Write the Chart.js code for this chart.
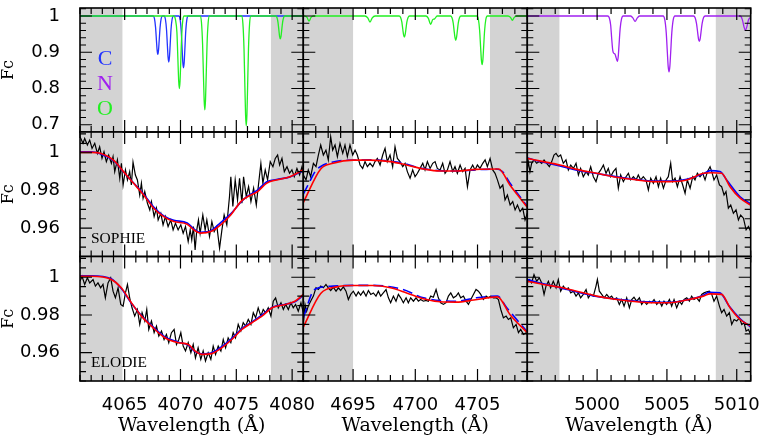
<!DOCTYPE html>
<html>
<head>
<meta charset="utf-8">
<script src="https://cdn.jsdelivr.net/npm/chart.js@4.4.1/dist/chart.umd.min.js"></script>
<style>
  body { margin: 0; background: #fff; }
  #wrap { position: relative; width: 763px; height: 440px; background: #fff; }
  #wrap canvas { position: absolute; left: 0; top: 0; }
</style>
</head>
<body>
<div id="wrap"></div>
<script>
// ---- axis ranges and tick labels ----
const xRanges = [[4061, 4081], [4691, 4709], [4995, 5011]];
const yRanges = [[0.68, 1.022], [0.945, 1.011], [0.945, 1.011]];
const xLabels = [[4065, 4070, 4075, 4080], [4695, 4700, 4705], [5000, 5005, 5010]];
const yLabels = [[0.7, 0.8, 0.9, 1], [0.96, 0.98, 1], [0.96, 0.98, 1]];
const xTickSteps = [1, 5];                       // minor, major (Angstrom)
const yTickSteps = [[0.02, 0.1], [0.005, 0.02], [0.005, 0.02]];

// grey fitting windows (Angstrom)
const bands4070 = [[4061, 4064.8], [4078.1, 4081]];
const bands4700 = [[4691, 4695], [4706, 4709]];
const bands5005 = [[4995, 4997.3], [5008.5, 5011]];

// ---- top row: C, N, O synthetic lines ----
const lineC4070 = [[4061,1],
  [4067.55,1],[4067.67,0.993],[4067.77,0.968],[4067.85,0.931],[4067.91,0.905],[4067.97,0.894],[4068.03,0.905],[4068.09,0.931],[4068.17,0.968],[4068.27,0.993],[4068.39,1],
  [4068.53,1],[4068.65,0.991],[4068.75,0.962],[4068.83,0.917],[4068.89,0.886],[4068.95,0.873],[4069.01,0.886],[4069.07,0.917],[4069.15,0.962],[4069.25,0.991],[4069.37,1],
  [4069.85,1],[4069.97,0.990],[4070.07,0.957],[4070.15,0.907],[4070.21,0.871],[4070.27,0.857],[4070.33,0.871],[4070.39,0.907],[4070.47,0.957],[4070.57,0.990],[4070.69,1],
  [4081,1]];
const lineO4070 = [[4061,1],
  [4069.4,1],[4069.55,0.99],[4069.68,0.955],[4069.78,0.87],[4069.84,0.82],[4069.9,0.80],[4069.96,0.82],[4070.02,0.87],[4070.1,0.94],[4070.2,0.986],[4070.32,1],
  [4071.76,1],[4071.88,0.982],[4071.98,0.922],[4072.06,0.832],[4072.12,0.767],[4072.18,0.741],[4072.24,0.767],[4072.30,0.832],[4072.38,0.922],[4072.48,0.982],[4072.6,1],
  [4075.47,1],[4075.59,0.979],[4075.69,0.909],[4075.77,0.803],[4075.83,0.727],[4075.89,0.697],[4075.95,0.727],[4076.01,0.803],[4076.09,0.909],[4076.19,0.979],[4076.31,1],
  [4078.52,1],[4078.64,0.996],[4078.74,0.981],[4078.82,0.959],[4078.88,0.943],[4078.94,0.937],[4079.0,0.943],[4079.06,0.959],[4079.14,0.981],[4079.24,0.996],[4079.36,1],
  [4081,1]];
const lineO4700 = [[4691,1],
  [4691.1,1],[4691.3,0.996],[4691.46,0.986],[4691.62,0.996],[4691.82,1],
  [4695.95,1],[4696.18,0.995],[4696.36,0.983],[4696.54,0.995],[4696.77,1],
  [4698.7,1],[4698.82,0.996],[4698.92,0.983],[4699.0,0.962],[4699.06,0.948],[4699.12,0.942],[4699.18,0.948],[4699.24,0.962],[4699.32,0.983],[4699.42,0.996],[4699.54,1],
  [4700.85,1],[4701.04,0.994],[4701.24,0.977],[4701.4,0.99],[4701.55,0.992],[4701.75,1],
  [4702.83,1],[4702.95,0.995],[4703.05,0.980],[4703.13,0.956],[4703.19,0.940],[4703.25,0.933],[4703.31,0.940],[4703.37,0.956],[4703.45,0.980],[4703.55,0.995],[4703.67,1],
  [4704.95,1],[4705.07,0.991],[4705.17,0.960],[4705.25,0.913],[4705.31,0.879],[4705.37,0.866],[4705.43,0.879],[4705.49,0.913],[4705.57,0.960],[4705.67,0.991],[4705.79,1],
  [4707.45,1],[4707.65,0.996],[4707.8,0.988],[4707.95,0.996],[4708.15,1],
  [4709,1]];
const lineN5005 = [[4995,1],
  [5000.75,1],[5000.87,0.995],[5000.97,0.975],[5001.05,0.935],[5001.12,0.905],[5001.2,0.897],[5001.28,0.895],[5001.36,0.885],[5001.45,0.875],[5001.51,0.887],[5001.57,0.92],[5001.65,0.965],[5001.75,0.992],[5001.87,1],
  [5002.4,1],[5002.56,0.995],[5002.72,0.985],[5002.88,0.995],[5003.04,1],
  [5004.73,1],[5004.85,0.989],[5004.95,0.954],[5005.03,0.9],[5005.09,0.861],[5005.15,0.846],[5005.21,0.861],[5005.27,0.9],[5005.35,0.954],[5005.45,0.989],[5005.57,1],
  [5006.9,1],[5007.02,0.995],[5007.12,0.979],[5007.2,0.955],[5007.26,0.937],[5007.32,0.93],[5007.38,0.937],[5007.44,0.955],[5007.52,0.979],[5007.62,0.995],[5007.74,1],
  [5010.25,1],[5010.4,0.99],[5010.52,0.97],[5010.62,0.96],[5010.72,0.97],[5010.85,0.99],[5011,0.997]];

// ---- middle row: SOPHIE ----
const sophieObs4070 = [[4061.0,1.0085],[4061.27,1.0050],[4061.42,1.0076],[4061.66,1.0041],[4061.87,1.0067],[4062.08,1.0023],[4062.32,1.0050],[4062.56,0.9997],[4062.76,1.0032],[4062.97,0.9970],[4063.15,1.0005],[4063.36,0.9953],[4063.57,0.9988],[4063.81,0.9944],[4063.96,0.9979],[4064.11,0.9900],[4064.35,0.9962],[4064.56,0.9865],[4064.71,0.9944],[4064.86,0.9829],[4065.07,0.9909],[4065.25,0.9856],[4065.45,0.9900],[4065.60,0.9829],[4065.75,0.9950],[4065.96,0.9882],[4066.14,0.9856],[4066.35,0.9776],[4066.50,0.9838],[4066.65,0.9759],[4066.80,0.9794],[4067.04,0.9732],[4067.25,0.9697],[4067.40,0.9741],[4067.64,0.9662],[4067.85,0.9706],[4068.00,0.9644],[4068.24,0.9679],[4068.44,0.9618],[4068.65,0.9662],[4068.89,0.9609],[4069.13,0.9644],[4069.34,0.9591],[4069.55,0.9626],[4069.79,0.9591],[4070.03,0.9618],[4070.24,0.9573],[4070.45,0.9609],[4070.69,0.9529],[4070.87,0.9591],[4071.01,0.9538],[4071.16,0.9609],[4071.31,0.9485],[4071.46,0.9591],[4071.61,0.9644],[4071.76,0.9573],[4072.00,0.9670],[4072.21,0.9591],[4072.36,0.9644],[4072.60,0.9556],[4072.81,0.9635],[4073.02,0.9582],[4073.26,0.9609],[4073.50,0.9494],[4073.71,0.9591],[4073.91,0.9670],[4074.15,0.9618],[4074.39,0.9768],[4074.51,0.9873],[4074.69,0.9715],[4074.90,0.9856],[4075.11,0.9750],[4075.29,0.9865],[4075.50,0.9732],[4075.65,0.9873],[4075.89,0.9768],[4076.10,0.9820],[4076.31,0.9741],[4076.55,0.9812],[4076.79,0.9723],[4077.00,0.9838],[4077.20,0.9944],[4077.38,0.9838],[4077.59,0.9909],[4077.80,0.9856],[4078.04,0.9953],[4078.28,0.9926],[4078.49,0.9970],[4078.70,0.9988],[4078.88,0.9935],[4079.09,0.9970],[4079.30,0.9900],[4079.54,0.9926],[4079.77,0.9891],[4079.98,0.9909],[4080.19,0.9873],[4080.43,0.9917],[4080.67,0.9882],[4080.88,0.9926],[4081.0,0.9891]];
const sophieRed4070 = [[4061,1.0002],[4062.05,1.0002],[4062.8,0.9997],[4064.0,0.9961],[4064.9,0.9900],[4065.8,0.9838],[4066.7,0.9776],[4067.6,0.9706],[4068.5,0.9661],[4069.4,0.9635],[4070.6,0.9621],[4071.2,0.9591],[4071.8,0.9574],[4072.7,0.9582],[4073.6,0.9618],[4074.5,0.9670],[4075.4,0.9741],[4076.0,0.9767],[4076.9,0.9794],[4077.7,0.9838],[4078.6,0.9856],[4079.8,0.9873],[4081.0,0.9910]];
const sophieBlue4070 = [[4061,1.0005],[4062.0,1.0005],[4062.8,0.9995],[4064.0,0.9958],[4064.9,0.9898],[4065.8,0.9840],[4066.7,0.9780],[4067.6,0.9712],[4068.5,0.9665],[4069.4,0.9642],[4070.6,0.9628],[4071.2,0.9596],[4071.8,0.9578],[4072.7,0.9586],[4073.6,0.9630],[4074.5,0.9676],[4075.4,0.9738],[4076.0,0.9770],[4076.9,0.9802],[4077.7,0.9845],[4078.6,0.9858],[4079.8,0.9872],[4081.0,0.9905]];

const sophieObs4700 = [[4691.0,0.9882],[4691.22,0.9856],[4691.40,0.9909],[4691.59,0.9873],[4691.81,0.9944],[4692.02,0.9926],[4692.21,0.9988],[4692.40,1.0041],[4692.61,0.9988],[4692.82,1.0014],[4693.01,0.9962],[4693.20,1.0085],[4693.36,1.0014],[4693.55,1.0041],[4693.74,0.9979],[4693.95,1.0050],[4694.17,0.9997],[4694.35,1.0041],[4694.54,0.9979],[4694.75,1.0041],[4694.97,0.9988],[4695.16,1.0014],[4695.34,0.9988],[4695.56,0.9935],[4695.77,0.9917],[4695.96,0.9953],[4696.15,0.9926],[4696.36,0.9944],[4696.58,0.9926],[4696.76,0.9953],[4696.95,0.9970],[4697.17,0.9935],[4697.38,0.9988],[4697.57,1.0023],[4697.75,0.9953],[4697.97,0.9988],[4698.18,0.9926],[4698.37,1.0032],[4698.56,0.9970],[4698.77,0.9953],[4698.99,0.9926],[4699.18,0.9944],[4699.36,0.9900],[4699.58,0.9865],[4699.79,0.9909],[4699.98,0.9873],[4700.17,0.9891],[4700.38,0.9917],[4700.60,0.9944],[4700.78,0.9909],[4700.97,0.9953],[4701.19,0.9917],[4701.40,0.9944],[4701.59,0.9953],[4701.77,0.9917],[4701.99,0.9909],[4702.20,0.9944],[4702.39,0.9891],[4702.58,0.9909],[4702.79,0.9953],[4703.01,0.9900],[4703.19,0.9926],[4703.38,0.9891],[4703.60,0.9935],[4703.81,0.9900],[4704.00,0.9917],[4704.19,0.9820],[4704.40,0.9909],[4704.61,0.9935],[4704.80,0.9909],[4704.99,0.9935],[4705.20,0.9917],[4705.42,0.9944],[4705.61,0.9962],[4705.79,0.9926],[4706.01,0.9970],[4706.22,0.9909],[4706.41,0.9891],[4706.60,0.9856],[4706.81,0.9812],[4707.03,0.9829],[4707.21,0.9750],[4707.40,0.9776],[4707.62,0.9723],[4707.83,0.9741],[4708.02,0.9697],[4708.21,0.9723],[4708.42,0.9688],[4708.63,0.9706],[4708.82,0.9644],[4709.0,0.9679]];
const sophieRed4700 = [[4691.0,0.9736],[4692.4,0.9914],[4693.4,0.9944],[4695.0,0.9961],[4696.4,0.9961],[4698.0,0.9953],[4699.3,0.9935],[4700.65,0.9914],[4702.0,0.9903],[4703.3,0.9903],[4704.9,0.9912],[4706.7,0.9914],[4707.6,0.9829],[4709.0,0.9711]];
const sophieBlue4700 = [[4691.0,0.9780],[4691.5,0.9845],[4692.0,0.9905],[4692.6,0.9935],[4693.3,0.9950],[4694.5,0.9960],[4696.5,0.9962],[4698.0,0.9955],[4699.0,0.9945],[4700.5,0.9917],[4702.0,0.9905],[4703.5,0.9903],[4705.0,0.9910],[4706.5,0.9914],[4707.0,0.9900],[4707.6,0.9840],[4709.0,0.9715]];

const sophieObs5005 = [[4995.0,0.9909],[4995.07,0.9953],[4995.19,0.9900],[4995.31,0.9944],[4995.48,0.9962],[4995.67,0.9944],[4995.86,0.9953],[4996.03,0.9944],[4996.20,0.9962],[4996.39,0.9944],[4996.58,0.9926],[4996.75,0.9953],[4996.91,0.9988],[4997.06,0.9997],[4997.22,0.9979],[4997.39,0.9988],[4997.58,0.9944],[4997.77,0.9962],[4997.94,0.9909],[4998.11,0.9935],[4998.30,0.9917],[4998.49,0.9944],[4998.66,0.9882],[4998.82,0.9917],[4999.01,0.9873],[4999.21,0.9900],[4999.37,0.9882],[4999.54,0.9926],[4999.73,0.9873],[4999.92,0.9847],[5000.09,0.9891],[5000.26,0.9909],[5000.45,0.9935],[5000.64,0.9891],[5000.80,0.9917],[5000.97,0.9873],[5001.16,0.9900],[5001.35,0.9917],[5001.52,0.9812],[5001.69,0.9882],[5001.88,0.9847],[5002.07,0.9873],[5002.24,0.9891],[5002.40,0.9856],[5002.60,0.9873],[5002.79,0.9856],[5002.95,0.9882],[5003.12,0.9856],[5003.31,0.9873],[5003.50,0.9856],[5003.67,0.9803],[5003.84,0.9865],[5004.03,0.9838],[5004.22,0.9873],[5004.39,0.9820],[5004.55,0.9865],[5004.75,0.9812],[5004.94,0.9856],[5005.10,0.9873],[5005.27,0.9944],[5005.41,0.9847],[5005.58,0.9865],[5005.75,0.9820],[5005.94,0.9873],[5006.13,0.9829],[5006.30,0.9785],[5006.46,0.9856],[5006.66,0.9812],[5006.85,0.9873],[5007.01,0.9856],[5007.18,0.9891],[5007.37,0.9873],[5007.56,0.9891],[5007.73,0.9856],[5007.90,0.9900],[5008.09,0.9926],[5008.21,0.9900],[5008.37,0.9856],[5008.56,0.9882],[5008.76,0.9829],[5008.92,0.9820],[5009.09,0.9776],[5009.23,0.9794],[5009.40,0.9706],[5009.57,0.9723],[5009.76,0.9679],[5009.95,0.9697],[5010.12,0.9644],[5010.28,0.9670],[5010.48,0.9653],[5010.67,0.9591],[5010.84,0.9609],[5011.0,0.9582]];
const sophieRed5005 = [[4995.0,0.9970],[4996.15,0.9953],[4997.34,0.9935],[4998.54,0.9912],[4999.97,0.9891],[5001.4,0.9870],[5002.83,0.9856],[5004.03,0.9847],[5005.22,0.9847],[5006.42,0.9856],[5007.61,0.9891],[5008.21,0.9894],[5008.92,0.9891],[5009.52,0.9820],[5010.24,0.9759],[5011.0,0.9723]];
const sophieBlue5005 = [[4995.0,0.9972],[4996.15,0.9950],[4997.34,0.9930],[4998.54,0.9908],[4999.97,0.9890],[5001.4,0.9872],[5002.83,0.9858],[5004.03,0.9850],[5005.22,0.9850],[5006.42,0.9860],[5007.61,0.9888],[5008.09,0.9905],[5008.8,0.9901],[5009.28,0.9856],[5010.24,0.9767],[5011.0,0.9729]];

// ---- bottom row: ELODIE ----
const elodieObs4070 = [[4061.0,0.9979],[4061.18,1.0005],[4061.42,0.9962],[4061.66,0.9997],[4061.87,0.9970],[4062.17,0.9988],[4062.38,0.9953],[4062.61,0.9970],[4062.85,0.9944],[4063.06,0.9962],[4063.27,0.9891],[4063.51,0.9970],[4063.75,0.9997],[4063.96,0.9926],[4064.17,0.9891],[4064.41,0.9944],[4064.65,0.9856],[4064.86,0.9847],[4065.07,0.9917],[4065.25,0.9962],[4065.45,0.9891],[4065.66,0.9838],[4065.90,0.9794],[4066.14,0.9829],[4066.35,0.9750],[4066.56,0.9812],[4066.80,0.9768],[4066.98,0.9829],[4067.16,0.9723],[4067.40,0.9768],[4067.64,0.9706],[4067.85,0.9741],[4068.06,0.9688],[4068.30,0.9715],[4068.53,0.9670],[4068.74,0.9697],[4068.95,0.9653],[4069.19,0.9706],[4069.43,0.9723],[4069.64,0.9644],[4069.85,0.9670],[4070.03,0.9706],[4070.24,0.9635],[4070.45,0.9609],[4070.69,0.9653],[4070.93,0.9600],[4071.14,0.9644],[4071.34,0.9573],[4071.58,0.9626],[4071.82,0.9565],[4072.03,0.9609],[4072.24,0.9556],[4072.48,0.9600],[4072.72,0.9565],[4072.93,0.9635],[4073.14,0.9591],[4073.38,0.9635],[4073.62,0.9609],[4073.83,0.9670],[4074.04,0.9626],[4074.27,0.9679],[4074.51,0.9653],[4074.72,0.9706],[4074.93,0.9679],[4075.17,0.9750],[4075.41,0.9715],[4075.62,0.9759],[4075.83,0.9741],[4076.07,0.9776],[4076.31,0.9750],[4076.52,0.9812],[4076.73,0.9785],[4076.96,0.9838],[4077.20,0.9794],[4077.41,0.9829],[4077.62,0.9812],[4077.86,0.9838],[4078.10,0.9794],[4078.31,0.9873],[4078.52,0.9891],[4078.76,0.9838],[4079.00,0.9865],[4079.21,0.9829],[4079.42,0.9856],[4079.66,0.9829],[4079.89,0.9865],[4080.10,0.9838],[4080.31,0.9856],[4080.55,0.9820],[4080.79,0.9865],[4081.0,0.9812]];
const elodieRed4070 = [[4061,1.0005],[4062.0,1.0005],[4063.8,0.9988],[4064.7,0.9944],[4065.6,0.9865],[4066.5,0.9794],[4067.4,0.9741],[4068.6,0.9679],[4069.8,0.9653],[4070.7,0.9644],[4071.3,0.9609],[4071.9,0.9591],[4072.8,0.9595],[4073.7,0.9626],[4074.6,0.9670],[4075.5,0.9723],[4076.4,0.9759],[4077.3,0.9794],[4078.2,0.9838],[4079.4,0.9856],[4080.25,0.9873],[4081.0,0.9909]];
const elodieBlue4070 = [[4061,1.0008],[4062.0,1.0008],[4063.8,0.9992],[4064.7,0.9940],[4065.6,0.9862],[4066.5,0.9797],[4067.4,0.9745],[4068.6,0.9684],[4069.8,0.9656],[4070.7,0.9640],[4071.3,0.9606],[4071.9,0.9594],[4072.8,0.9600],[4073.7,0.9632],[4074.6,0.9676],[4075.5,0.9728],[4076.4,0.9762],[4077.3,0.9800],[4078.2,0.9840],[4079.4,0.9857],[4080.25,0.9870],[4081.0,0.9905]];

const elodieObs4700 = [[4691.0,0.9750],[4691.14,0.9856],[4691.27,0.9820],[4691.40,0.9847],[4691.59,0.9873],[4691.81,0.9900],[4692.02,0.9944],[4692.21,0.9935],[4692.40,0.9953],[4692.61,0.9944],[4692.82,0.9962],[4693.01,0.9944],[4693.20,0.9930],[4693.41,0.9947],[4693.63,0.9926],[4693.82,0.9944],[4694.00,0.9930],[4694.22,0.9949],[4694.43,0.9926],[4694.62,0.9882],[4694.81,0.9909],[4695.02,0.9926],[4695.24,0.9900],[4695.42,0.9922],[4695.61,0.9905],[4695.83,0.9926],[4696.04,0.9900],[4696.23,0.9930],[4696.42,0.9909],[4696.63,0.9917],[4696.84,0.9900],[4697.03,0.9926],[4697.22,0.9900],[4697.43,0.9917],[4697.65,0.9935],[4697.84,0.9891],[4698.02,0.9865],[4698.24,0.9900],[4698.45,0.9873],[4698.64,0.9909],[4698.83,0.9891],[4699.04,0.9865],[4699.26,0.9891],[4699.44,0.9865],[4699.63,0.9891],[4699.85,0.9873],[4700.06,0.9891],[4700.25,0.9873],[4700.43,0.9882],[4700.65,0.9873],[4700.86,0.9877],[4701.05,0.9873],[4701.24,0.9900],[4701.45,0.9894],[4701.67,0.9935],[4701.85,0.9891],[4702.04,0.9865],[4702.26,0.9856],[4702.47,0.9865],[4702.66,0.9900],[4702.85,0.9917],[4703.06,0.9891],[4703.28,0.9900],[4703.46,0.9917],[4703.65,0.9891],[4703.87,0.9900],[4704.08,0.9873],[4704.27,0.9856],[4704.46,0.9882],[4704.67,0.9909],[4704.88,0.9935],[4705.07,0.9926],[4705.26,0.9909],[4705.47,0.9882],[4705.69,0.9900],[4705.87,0.9891],[4706.06,0.9900],[4706.28,0.9891],[4706.49,0.9891],[4706.68,0.9882],[4706.87,0.9829],[4707.08,0.9785],[4707.30,0.9794],[4707.48,0.9776],[4707.67,0.9785],[4707.88,0.9732],[4708.10,0.9750],[4708.29,0.9706],[4708.47,0.9723],[4708.69,0.9697],[4708.90,0.9706],[4709.0,0.9697]];
const elodieRed4700 = [[4691.0,0.9736],[4692.4,0.9914],[4693.7,0.9949],[4695.0,0.9956],[4696.6,0.9956],[4698.0,0.9944],[4699.3,0.9917],[4700.65,0.9886],[4702.0,0.9870],[4703.3,0.9868],[4704.7,0.9879],[4706.6,0.9896],[4707.6,0.9803],[4709.0,0.9706]];
const elodieBlue4700 = [[4691.0,0.9785],[4691.9,0.9935],[4693.4,0.9953],[4695.0,0.9957],[4696.6,0.9957],[4699.0,0.9935],[4700.65,0.9891],[4703.3,0.9873],[4704.9,0.9891],[4706.6,0.9900],[4707.35,0.9838],[4709.0,0.9711]];

const elodieObs5005 = [[4995.0,0.9970],[4995.15,0.9988],[4995.31,0.9970],[4995.48,1.0014],[4995.67,0.9979],[4995.86,0.9997],[4996.03,0.9970],[4996.20,0.9909],[4996.34,0.9953],[4996.51,0.9979],[4996.67,0.9944],[4996.86,0.9979],[4997.06,0.9944],[4997.22,0.9988],[4997.39,0.9926],[4997.58,0.9953],[4997.77,0.9935],[4997.94,0.9944],[4998.11,0.9917],[4998.30,0.9926],[4998.49,0.9900],[4998.66,0.9917],[4998.82,0.9891],[4999.01,0.9909],[4999.21,0.9935],[4999.37,0.9891],[4999.54,0.9909],[4999.73,0.9900],[4999.92,0.9953],[5000.02,0.9988],[5000.16,0.9926],[5000.33,0.9909],[5000.50,0.9891],[5000.69,0.9909],[5000.88,0.9891],[5001.04,0.9900],[5001.21,0.9882],[5001.40,0.9891],[5001.59,0.9856],[5001.76,0.9882],[5001.93,0.9847],[5002.12,0.9891],[5002.31,0.9838],[5002.48,0.9882],[5002.64,0.9894],[5002.83,0.9873],[5003.03,0.9891],[5003.19,0.9856],[5003.36,0.9873],[5003.55,0.9856],[5003.74,0.9873],[5003.91,0.9865],[5004.08,0.9882],[5004.27,0.9856],[5004.46,0.9873],[5004.63,0.9847],[5004.79,0.9873],[5004.98,0.9856],[5005.18,0.9882],[5005.34,0.9847],[5005.51,0.9882],[5005.70,0.9838],[5005.89,0.9873],[5006.06,0.9856],[5006.23,0.9882],[5006.42,0.9891],[5006.61,0.9873],[5006.77,0.9900],[5006.94,0.9882],[5007.13,0.9891],[5007.32,0.9873],[5007.49,0.9909],[5007.66,0.9917],[5007.85,0.9923],[5008.04,0.9926],[5008.21,0.9909],[5008.37,0.9873],[5008.56,0.9900],[5008.76,0.9847],[5008.92,0.9812],[5009.09,0.9829],[5009.28,0.9794],[5009.47,0.9812],[5009.64,0.9750],[5009.81,0.9776],[5010.00,0.9768],[5010.19,0.9785],[5010.36,0.9750],[5010.52,0.9759],[5010.67,0.9715],[5010.84,0.9723],[5011.0,0.9697]];
const elodieRed5005 = [[4995.0,0.9979],[4996.15,0.9962],[4997.34,0.9947],[4998.54,0.9926],[4999.97,0.9900],[5001.4,0.9882],[5002.83,0.9870],[5004.03,0.9865],[5005.22,0.9865],[5006.42,0.9879],[5007.61,0.9900],[5008.09,0.9912],[5008.92,0.9909],[5009.52,0.9838],[5010.24,0.9776],[5011.0,0.9741]];
const elodieBlue5005 = [[4995.0,0.9988],[4996.15,0.9965],[4997.34,0.9945],[4998.54,0.9922],[4999.97,0.9898],[5001.4,0.9884],[5002.83,0.9873],[5004.03,0.9868],[5005.22,0.9867],[5006.42,0.9880],[5007.61,0.9905],[5008.0,0.9920],[5008.8,0.9917],[5009.45,0.9847],[5010.24,0.9780],[5011.0,0.9736]];

// ---- geometry ----
const W = 763, H = 440;
const colX = [80, 303.3, 527.3, 750.7];
const rowY = [8, 132, 256.5, 381];

function obsLine(data) {
    return { data, borderColor: '#000', borderWidth: 1.2, pointRadius: 0, tension: 0 };
}
function modelLine(data, color, dash) {
    return { data, borderColor: color, borderWidth: 1.6, pointRadius: 0,
             cubicInterpolationMode: 'monotone', borderDash: dash || [] };
}
function synthLine(data, color) {
    return { data, borderColor: color, borderWidth: 1.3, pointRadius: 0, cubicInterpolationMode: 'monotone' };
}

// datasets: first one is drawn on top
const panels = [
    [
        [synthLine(lineO4070, '#22f022'), synthLine(lineC4070, '#2233ff')],
        [synthLine(lineO4700, '#22f022')],
        [synthLine(lineN5005, '#a020f0')]
    ],
    [
        [modelLine(sophieRed4070, '#ff0000'), modelLine(sophieBlue4070, '#0000ff'), obsLine(sophieObs4070)],
        [modelLine(sophieRed4700, '#ff0000'), modelLine(sophieBlue4700, '#0000ff', [10, 5]), obsLine(sophieObs4700)],
        [modelLine(sophieRed5005, '#ff0000'), modelLine(sophieBlue5005, '#0000ff'), obsLine(sophieObs5005)]
    ],
    [
        [modelLine(elodieRed4070, '#ff0000'), modelLine(elodieBlue4070, '#0000ff'), obsLine(elodieObs4070)],
        [modelLine(elodieRed4700, '#ff0000'), modelLine(elodieBlue4700, '#0000ff', [10, 5]), obsLine(elodieObs4700)],
        [modelLine(elodieRed5005, '#ff0000'), modelLine(elodieBlue5005, '#0000ff'), obsLine(elodieObs5005)]
    ]
];
const bands = [bands4070, bands4700, bands5005];

// text written inside panels (offsets from the plot corner)
const panelText = {
    '0,0': [
        { text: 'C', dx: 25, dy: 57, color: '#2233ff', font: '22px "Liberation Serif"', align: 'center' },
        { text: 'N', dx: 25, dy: 82, color: '#a020f0', font: '22px "Liberation Serif"', align: 'center' },
        { text: 'O', dx: 25, dy: 107, color: '#22f022', font: '22px "Liberation Serif"', align: 'center' }
    ],
    '1,0': [{ text: 'SOPHIE', dx: 11, dy: 110.5, color: '#000', font: '15.5px "Liberation Serif"', align: 'left' }],
    '2,0': [{ text: 'ELODIE', dx: 11, dy: 110.5, color: '#000', font: '15.5px "Liberation Serif"', align: 'left' }]
};

function isMajor(v, major) {
    return Math.abs(v / major - Math.round(v / major)) < 1e-6;
}

// grey windows, inward tick marks on all four sides, frame, labels
const panelPlugin = {
    id: 'panel',
    beforeDatasetsDraw(chart, args, opts) {
        const { ctx, chartArea: a, scales: { x } } = chart;
        ctx.save();
        ctx.fillStyle = '#d3d3d3';
        opts.bands.forEach(b => {
            const x0 = x.getPixelForValue(b[0]), x1 = x.getPixelForValue(b[1]);
            ctx.fillRect(x0, a.top, x1 - x0, a.bottom - a.top);
        });
        ctx.restore();
    },
    afterDatasetsDraw(chart, args, opts) {
        const { ctx, chartArea: a, scales: { x, y } } = chart;
        ctx.save();
        ctx.strokeStyle = '#000';
        ctx.lineWidth = 1.2;
        ctx.beginPath();
        const [xMinor, xMajor] = opts.xSteps;
        for (let k = Math.ceil(x.min / xMinor - 1e-9); k * xMinor <= x.max + 1e-9; k++) {
            const v = k * xMinor;
            const px = x.getPixelForValue(v);
            const len = isMajor(v, xMajor) ? 12 : 6;
            ctx.moveTo(px, a.bottom); ctx.lineTo(px, a.bottom - len);
            ctx.moveTo(px, a.top); ctx.lineTo(px, a.top + len);
        }
        const [yMinor, yMajor] = opts.ySteps;
        for (let k = Math.ceil(y.min / yMinor - 1e-9); k * yMinor <= y.max + 1e-9; k++) {
            const v = k * yMinor;
            const py = y.getPixelForValue(v);
            const len = isMajor(v, yMajor) ? 12 : 6;
            ctx.moveTo(a.left, py); ctx.lineTo(a.left + len, py);
            ctx.moveTo(a.right, py); ctx.lineTo(a.right - len, py);
        }
        ctx.stroke();
        ctx.lineWidth = 1.6;
        ctx.strokeRect(a.left, a.top, a.right - a.left, a.bottom - a.top);
        (opts.texts || []).forEach(t => {
            ctx.font = t.font;
            ctx.fillStyle = t.color;
            ctx.textAlign = t.align;
            ctx.textBaseline = 'alphabetic';
            ctx.fillText(t.text, a.left + t.dx, a.top + t.dy);
        });
        ctx.restore();
    }
};

const wrap = document.getElementById('wrap');
const tickFont = { family: 'DejaVu Sans', size: 18 };

function makePanel(r, c) {
    const canvas = document.createElement('canvas');
    canvas.width = W; canvas.height = H;
    wrap.appendChild(canvas);
    const showX = r === 2, showY = c === 0;
    new Chart(canvas, {
        type: 'line',
        data: { datasets: panels[r][c] },
        options: {
            responsive: false,
            animation: false,
            devicePixelRatio: 1,
            events: [],
            layout: {
                padding: {
                    left: showY ? 0 : colX[c],
                    right: W - colX[c + 1],
                    top: rowY[r],
                    bottom: showX ? 0 : H - rowY[r + 1]
                }
            },
            plugins: {
                legend: { display: false },
                tooltip: { enabled: false },
                panel: { bands: bands[c], xSteps: xTickSteps, ySteps: yTickSteps[r], texts: panelText[r + ',' + c] }
            },
            scales: {
                x: {
                    type: 'linear',
                    min: xRanges[c][0], max: xRanges[c][1],
                    display: showX,
                    grid: { display: false },
                    border: { display: false },
                    afterBuildTicks: s => { s.ticks = xLabels[c].map(v => ({ value: v })); },
                    afterFit: s => {
                        if (!showX) return;
                        s.height = H - rowY[3]; s.paddingLeft = 0; s.paddingRight = 0;
                    },
                    ticks: { font: tickFont, color: '#000', padding: 6, maxRotation: 0, autoSkip: false,
                             callback: v => String(v) },
                    title: { display: true, text: 'Wavelength (Å)', color: '#000',
                             font: { family: 'DejaVu Serif', size: 19, lineHeight: 1.2 },
                             padding: { top: 0, bottom: 3 } }
                },
                y: {
                    type: 'linear',
                    min: yRanges[r][0], max: yRanges[r][1],
                    display: showY,
                    grid: { display: false },
                    border: { display: false },
                    afterBuildTicks: s => { s.ticks = yLabels[r].map(v => ({ value: v })); },
                    afterFit: s => {
                        if (!showY) return;
                        s.width = colX[0]; s.paddingTop = 0; s.paddingBottom = 0;
                    },
                    ticks: { font: tickFont, color: '#000', padding: 12, autoSkip: false,
                             callback: v => String(+v.toFixed(3)) },
                    title: { display: true, text: 'Fc', color: '#000',
                             font: { family: 'DejaVu Serif', size: 16, lineHeight: 1 },
                             padding: { top: 1, bottom: 0 } }
                }
            }
        },
        plugins: [panelPlugin]
    });
}

for (let r = 0; r < 3; r++) {
    for (let c = 0; c < 3; c++) makePanel(r, c);
}
</script>
</body>
</html>
